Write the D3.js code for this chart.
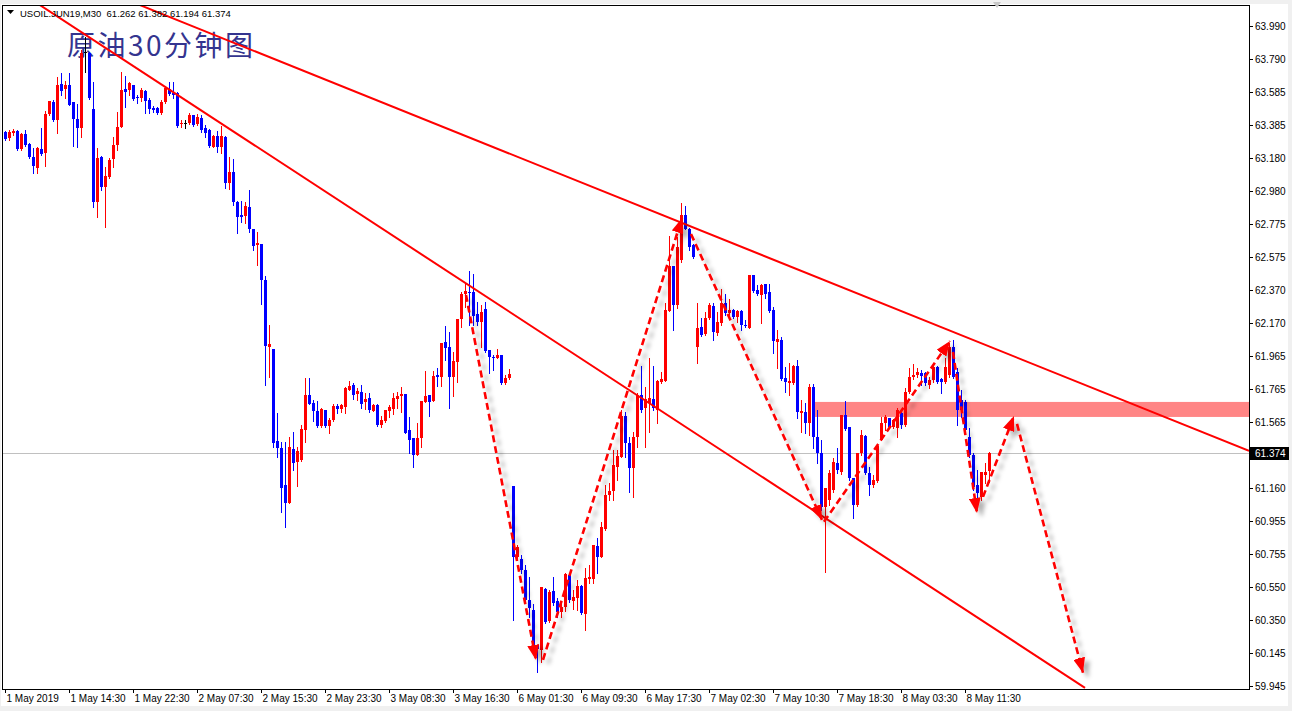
<!DOCTYPE html>
<html><head><meta charset="utf-8">
<script src="https://cdn.jsdelivr.net/npm/d3@7"></script>
<style>body{margin:0;background:#fff;}svg{display:block;}</style>
</head><body>
<svg id="c" width="1292" height="711"></svg>
<script>
// ---- data ----
const opens=[63.340,63.303,63.334,63.346,63.236,63.328,63.267,63.187,63.120,63.236,
63.212,63.451,63.524,63.414,63.634,63.604,63.628,63.524,63.420,63.365,
63.830,63.824,63.481,62.911,63.187,63.003,63.064,63.175,63.261,63.371,
63.604,63.598,63.628,63.555,63.549,63.591,63.536,63.487,63.487,63.457,
63.524,63.604,63.579,63.579,63.389,63.395,63.395,63.444,63.389,63.426,
63.365,63.352,63.248,63.316,63.248,63.310,63.028,63.095,62.911,62.832,
62.826,62.881,62.746,62.648,62.654,62.434,62.023,62.011,61.447,61.404,
61.177,61.067,61.398,61.318,61.331,61.514,61.729,61.680,61.631,61.539,
61.637,61.539,61.576,61.661,61.643,61.655,61.759,61.790,61.735,61.747,
61.686,61.710,61.631,61.668,61.545,61.570,61.631,61.643,61.704,61.723,
61.735,61.514,61.465,61.361,61.465,61.686,61.729,61.692,61.851,61.839,
62.054,62.023,61.839,61.931,62.194,62.348,62.360,62.360,62.225,62.176,
62.256,62.005,61.962,61.955,61.974,61.802,61.833,61.171,60.736,60.724,
60.657,60.473,60.412,60.197,60.166,60.540,60.344,60.528,60.467,60.399,
60.430,60.626,60.467,60.485,60.559,60.387,60.601,60.601,60.804,60.736,
60.908,61.116,61.141,61.288,61.349,61.600,61.435,61.282,61.471,61.729,
61.649,61.680,61.704,61.637,61.808,61.815,62.243,62.519,62.280,62.556,
62.832,62.746,62.648,62.023,62.145,62.103,62.201,62.274,62.109,62.170,
62.293,62.231,62.250,62.207,62.243,62.158,62.139,62.464,62.372,62.342,
62.409,62.360,62.250,62.054,62.066,61.833,61.802,61.802,61.906,61.619,
61.625,61.557,61.778,61.471,61.373,61.043,61.086,61.147,61.312,61.257,
61.606,61.533,61.220,61.055,61.373,61.478,61.251,61.177,61.202,61.453,
61.557,61.588,61.533,61.527,61.619,61.545,61.747,61.839,61.851,61.864,
61.864,61.790,61.821,61.900,61.827,61.808,61.851,62.023,61.870,61.698,
61.686,61.471,61.361,61.177,61.104,61.239,61.262];
const highs=[63.346,63.352,63.359,63.352,63.334,63.352,63.273,63.242,63.248,63.365,
63.469,63.530,63.536,63.677,63.702,63.653,63.702,63.524,63.512,63.843,
63.922,63.830,63.647,63.242,63.193,63.126,63.181,63.310,63.463,63.708,
63.683,63.647,63.628,63.567,63.610,63.598,63.549,63.500,63.493,63.536,
63.622,63.647,63.647,63.585,63.414,63.414,63.457,63.444,63.451,63.444,
63.383,63.359,63.322,63.346,63.377,63.316,63.187,63.175,62.917,62.917,
62.911,62.985,62.746,62.728,62.654,62.458,62.158,62.011,61.619,61.441,
61.441,61.471,61.502,61.410,61.545,61.833,61.833,61.698,61.692,61.649,
61.637,61.588,61.674,61.674,61.674,61.778,61.815,61.802,61.772,61.790,
61.741,61.741,61.674,61.674,61.600,61.637,61.668,61.741,61.747,61.778,
61.735,61.594,61.465,61.557,61.692,61.876,61.729,61.876,61.894,62.047,
62.152,62.115,61.992,62.194,62.360,62.415,62.489,62.470,62.299,62.280,
62.299,62.005,61.974,62.011,61.974,61.851,61.888,61.171,60.810,60.749,
60.687,60.614,60.448,60.197,60.552,60.546,60.534,60.614,60.485,60.454,
60.638,60.638,60.534,60.595,60.565,60.669,60.687,60.810,60.853,60.951,
61.177,61.190,61.392,61.392,61.637,61.625,61.471,61.502,61.741,61.906,
61.778,61.955,61.906,61.821,61.870,62.293,62.703,62.519,62.697,62.905,
62.887,62.752,62.654,62.293,62.201,62.237,62.293,62.293,62.237,62.378,
62.348,62.317,62.256,62.250,62.250,62.188,62.464,62.464,62.403,62.409,
62.409,62.409,62.268,62.127,62.084,61.900,61.925,61.913,61.943,61.698,
61.680,61.796,61.796,61.637,61.453,61.159,61.269,61.343,61.404,61.606,
61.692,61.533,61.220,61.373,61.514,61.484,61.288,61.239,61.422,61.594,
61.606,61.588,61.582,61.649,61.625,61.772,61.894,61.919,61.894,61.882,
61.870,61.839,61.906,61.906,61.833,61.955,62.047,62.066,61.894,61.759,
61.698,61.527,61.373,61.269,61.257,61.312,61.382];
const lows=[63.291,63.291,63.322,63.230,63.230,63.254,63.181,63.089,63.089,63.199,
63.132,63.444,63.408,63.334,63.567,63.549,63.506,63.254,63.248,63.310,
63.708,63.542,62.881,62.819,62.985,62.758,63.058,63.126,63.230,63.371,
63.493,63.567,63.536,63.518,63.530,63.457,63.457,63.463,63.451,63.451,
63.518,63.567,63.549,63.371,63.371,63.365,63.389,63.377,63.383,63.340,
63.310,63.248,63.248,63.218,63.212,62.997,62.991,62.893,62.721,62.789,
62.783,62.728,62.617,62.525,62.286,61.790,61.839,61.410,61.349,61.012,
60.920,61.067,61.269,61.171,61.324,61.441,61.674,61.570,61.533,61.533,
61.533,61.496,61.570,61.619,61.625,61.619,61.759,61.704,61.698,61.649,
61.643,61.625,61.631,61.539,61.533,61.563,61.594,61.612,61.649,61.625,
61.496,61.373,61.288,61.361,61.410,61.686,61.600,61.692,61.784,61.784,
61.943,61.649,61.723,61.808,62.145,62.268,62.158,62.158,62.158,62.023,
61.992,61.864,61.882,61.955,61.796,61.796,61.827,60.350,60.718,60.638,
60.461,60.369,60.154,60.032,60.093,60.332,60.338,60.442,60.369,60.369,
60.405,60.461,60.418,60.412,60.387,60.289,60.577,60.577,60.638,60.736,
60.902,61.086,61.086,61.208,61.349,61.349,61.135,61.104,61.410,61.625,
61.410,61.502,61.637,61.557,61.802,61.815,62.243,62.127,62.262,62.544,
62.746,62.617,62.568,61.925,62.090,62.096,62.194,62.066,62.096,62.158,
62.219,62.207,62.201,62.176,62.127,62.145,62.139,62.360,62.342,62.170,
62.323,62.237,61.986,61.894,61.821,61.747,61.729,61.796,61.588,61.502,
61.496,61.484,61.404,61.312,61.024,60.644,61.055,61.135,61.251,61.245,
61.514,61.208,60.975,61.049,61.361,61.245,61.116,61.165,61.196,61.453,
61.514,61.527,61.527,61.471,61.527,61.539,61.741,61.827,61.839,61.790,
61.790,61.772,61.808,61.802,61.741,61.802,61.839,61.833,61.545,61.594,
61.502,61.349,61.147,61.104,61.086,61.190,61.194];
const closes=[63.297,63.340,63.346,63.236,63.328,63.261,63.187,63.132,63.242,63.205,
63.451,63.530,63.414,63.628,63.591,63.628,63.506,63.420,63.365,63.824,
63.830,63.549,62.911,63.181,63.003,63.071,63.169,63.261,63.371,63.598,
63.585,63.640,63.542,63.549,63.598,63.530,63.481,63.475,63.457,63.524,
63.610,63.573,63.567,63.377,63.395,63.395,63.444,63.383,63.432,63.352,
63.334,63.254,63.316,63.248,63.316,63.028,63.095,62.911,62.819,62.819,
62.887,62.746,62.642,62.660,62.434,62.029,62.041,61.435,61.404,61.159,
61.067,61.410,61.312,61.386,61.521,61.729,61.674,61.631,61.539,61.643,
61.539,61.576,61.661,61.643,61.668,61.772,61.784,61.729,61.753,61.674,
61.704,61.637,61.668,61.545,61.576,61.637,61.655,61.710,61.723,61.735,
61.496,61.453,61.361,61.465,61.692,61.723,61.686,61.845,61.839,62.047,
62.017,61.839,61.937,62.194,62.348,62.366,62.354,62.213,62.176,62.237,
61.998,61.962,61.955,61.974,61.802,61.833,61.857,60.736,60.797,60.657,
60.473,60.424,60.185,60.172,60.552,60.338,60.522,60.454,60.399,60.430,
60.632,60.473,60.491,60.559,60.393,60.608,60.614,60.810,60.736,60.920,
61.116,61.141,61.300,61.355,61.600,61.435,61.282,61.471,61.729,61.637,
61.704,61.710,61.649,61.815,61.827,62.250,62.519,62.280,62.636,62.832,
62.746,62.636,62.574,62.139,62.096,62.201,62.280,62.115,62.176,62.293,
62.231,62.250,62.207,62.243,62.158,62.152,62.464,62.366,62.348,62.403,
62.348,62.243,62.060,62.072,61.827,61.808,61.815,61.906,61.625,61.631,
61.557,61.778,61.471,61.373,61.043,61.159,61.251,61.318,61.269,61.606,
61.521,61.220,61.055,61.373,61.484,61.251,61.177,61.208,61.416,61.557,
61.594,61.533,61.576,61.637,61.545,61.747,61.839,61.851,61.870,61.845,
61.802,61.821,61.900,61.808,61.808,61.900,62.023,61.839,61.637,61.637,
61.514,61.361,61.165,61.128,61.257,61.257,61.374];

const timeLabels=["1 May 2019","1 May 14:30","1 May 22:30","2 May 07:30","2 May 15:30","2 May 23:30",
"3 May 08:30","3 May 16:30","6 May 01:30","6 May 09:30","6 May 17:30","7 May 02:30",
"7 May 10:30","7 May 18:30","8 May 03:30","8 May 11:30"];
const labelEvery=16;
const priceTicks=[63.990,63.790,63.585,63.385,63.180,62.980,62.775,62.575,62.370,62.170,61.965,61.765,
61.565,61.160,60.955,60.755,60.550,60.350,60.145,59.945];
const lastPrice=61.374;
const headerText="USOIL.JUN19,M30  61.262 61.382 61.194 61.374";
const titleText="原油30分钟图";
// trend lines: [barIndex, price] pairs
const trendLines=[[[33.75,64.118],[311,61.386]],[[8.75,64.118],[270,59.934]]];
// dashed arrows: [barIndex, price] start -> end
const arrows=[[[115.25,62.342],[132.75,60.105]],[[134.5,60.105],[169.25,62.813]],
[[171.5,62.715],[204.25,60.963]],[[204.75,60.951],[236.25,62.060]],
[[237,61.992],[243,61.006]],[[244.5,61.104],[252.25,61.600]],[[253,61.551],[269.5,60.026]]];
const zoneFrom=201.75, zoneTop=61.686, zoneBottom=61.594;

// ---- drawing ----
const svg=d3.select('#c');
const x=d3.scaleLinear().domain([0,311]).range([5,1249]);
const y=d3.scaleLinear().domain([59.945,63.990]).range([686,26]);
const L=2,T=5,R=1249,B=689;

const defs=svg.append('defs');
defs.append('clipPath').attr('id','plot').append('rect').attr('x',L+1).attr('y',T+1).attr('width',R-L-1).attr('height',B-T-1);
const f=defs.append('filter').attr('id','sh').attr('filterUnits','userSpaceOnUse')
  .attr('x',0).attr('y',0).attr('width',1292).attr('height',711);
f.append('feGaussianBlur').attr('in','SourceAlpha').attr('stdDeviation',2.2);
f.append('feOffset').attr('dx',5).attr('dy',4).attr('result','b');
f.append('feFlood').attr('flood-color','#000').attr('flood-opacity',0.3);
f.append('feComposite').attr('in2','b').attr('operator','in');
const fm=f.append('feMerge');fm.append('feMergeNode');fm.append('feMergeNode').attr('in','SourceGraphic');
defs.append('marker').attr('id','ah').attr('markerUnits','userSpaceOnUse')
  .attr('markerWidth',16).attr('markerHeight',12).attr('refX',15).attr('refY',6).attr('orient','auto')
  .append('path').attr('d','M0,0 L15,6 L0,12 Z').attr('fill','#ff0000');

// window background
svg.append('rect').attr('width',1292).attr('height',711).attr('fill','#f0f0f0');
svg.append('rect').attr('x',1).attr('y',4).attr('width',1287).attr('height',702).attr('fill','#ffffff');

const plot=svg.append('g').attr('clip-path','url(#plot)');
// current price line
plot.append('line').attr('x1',L).attr('x2',R).attr('y1',Math.round(y(lastPrice))+0.5).attr('y2',Math.round(y(lastPrice))+0.5)
  .attr('stroke','#c0c0c0').attr('stroke-width',1);
// resistance zone
plot.append('rect').attr('x',x(zoneFrom)).attr('y',y(zoneTop)).attr('width',R-x(zoneFrom)).attr('height',y(zoneBottom)-y(zoneTop))
  .attr('fill','#ff8585');
// title
plot.append('text').attr('x',67).attr('y',56).attr('font-family','"Noto Sans CJK SC"').attr('font-size',28)
  .attr('fill','#34348f').attr('textLength',186).attr('lengthAdjust','spacing').text(titleText);

// candles
const data=opens.map((o,i)=>({i,o,h:highs[i],l:lows[i],c:closes[i]}));
const col=d=>d.c>d.o?'#ff0000':(d.c<d.o?'#0000ff':'#000000');
const cg=plot.append('g');
cg.selectAll('line.w').data(data).join('line').attr('class','w')
  .attr('x1',d=>Math.round(x(d.i))+0.5).attr('x2',d=>Math.round(x(d.i))+0.5)
  .attr('y1',d=>Math.round(y(d.h))).attr('y2',d=>Math.round(y(d.l))+1)
  .attr('stroke',col).attr('stroke-width',1);
cg.selectAll('rect.b').data(data).join('rect').attr('class','b')
  .attr('x',d=>Math.round(x(d.i))-1).attr('width',3)
  .attr('y',d=>Math.round(y(Math.max(d.o,d.c))))
  .attr('height',d=>Math.max(1,Math.round(y(Math.min(d.o,d.c)))-Math.round(y(Math.max(d.o,d.c)))))
  .attr('fill',col);

// trend lines
plot.selectAll('line.t').data(trendLines).join('line').attr('class','t')
  .attr('x1',d=>x(d[0][0])).attr('y1',d=>y(d[0][1])).attr('x2',d=>x(d[1][0])).attr('y2',d=>y(d[1][1]))
  .attr('stroke','#ff0000').attr('stroke-width',2);

// arrows
const ag=plot.append('g').attr('filter','url(#sh)');
ag.selectAll('line').data(arrows).join('line')
  .attr('x1',d=>x(d[0][0])).attr('y1',d=>y(d[0][1])).attr('x2',d=>x(d[1][0])).attr('y2',d=>y(d[1][1]))
  .attr('stroke','#ff0000').attr('stroke-width',2.6).attr('stroke-dasharray','7,4').attr('marker-end','url(#ah)');

// frame
svg.append('rect').attr('x',L+0.5).attr('y',T+0.5).attr('width',R-L).attr('height',B-T)
  .attr('fill','none').attr('stroke','#000').attr('stroke-width',1);

// price axis
const pa=svg.append('g').attr('font-family','"Liberation Sans",Arial,sans-serif').attr('font-size',10).attr('fill','#000');
priceTicks.forEach(p=>{
  const yy=Math.round(y(p))+0.5;
  pa.append('line').attr('x1',R).attr('x2',R+4).attr('y1',yy).attr('y2',yy).attr('stroke','#000');
  pa.append('text').attr('x',R+6).attr('y',yy+3.5).text(p.toFixed(3));
});
const ly=Math.round(y(lastPrice));
pa.append('rect').attr('x',R+1).attr('y',ly-6).attr('width',39).attr('height',13).attr('fill','#000');
pa.append('text').attr('x',R+6).attr('y',ly+4).attr('fill','#fff').text(lastPrice.toFixed(3));

// time axis
const ta=svg.append('g').attr('font-family','"Liberation Sans",Arial,sans-serif').attr('font-size',10).attr('fill','#000');
timeLabels.forEach((t,k)=>{
  const xx=Math.round(x(k*labelEvery))+0.5;
  ta.append('line').attr('x1',xx).attr('x2',xx).attr('y1',B).attr('y2',B+4).attr('stroke','#000');
  ta.append('text').attr('x',xx+1).attr('y',B+13).text(t);
});

// header
svg.append('path').attr('d','M7,10 L14,10 L10.5,14 Z').attr('fill','#000');
svg.append('text').attr('x',20).attr('y',16.5).attr('font-family','"Liberation Sans",Arial,sans-serif')
  .attr('font-size',9.5).attr('fill','#000').attr('xml:space','preserve').text(headerText);
svg.append('path').attr('d','M993,2 L1001,2 L997,8 Z').attr('fill','#c8c8c8');
</script>
</body></html>
